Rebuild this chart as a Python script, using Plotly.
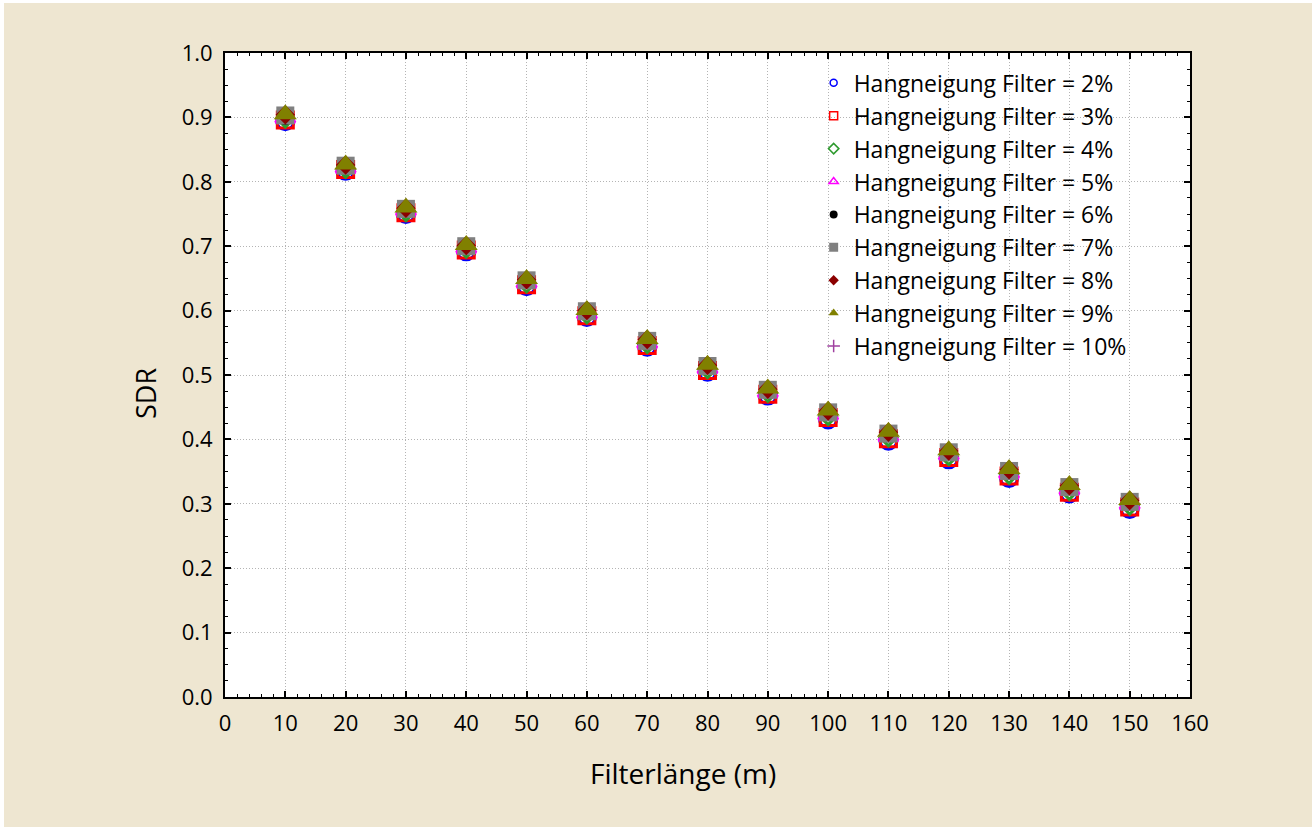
import plotly.graph_objects as go

# Filter length (m)
filter_len = [10, 20, 30, 40, 50, 60, 70, 80, 90, 100, 110, 120, 130, 140, 150]

# SDR per slope of the filter strip
sdr_2 = [0.894, 0.817, 0.750, 0.692, 0.638, 0.590, 0.544, 0.505, 0.468, 0.431, 0.398, 0.369, 0.340, 0.316, 0.292]
sdr_3 = [0.896, 0.819, 0.752, 0.694, 0.640, 0.592, 0.546, 0.507, 0.470, 0.434, 0.401, 0.372, 0.343, 0.318, 0.295]
sdr_4 = [0.898, 0.820, 0.753, 0.696, 0.642, 0.594, 0.548, 0.509, 0.472, 0.436, 0.403, 0.374, 0.345, 0.320, 0.297]
sdr_5 = [0.899, 0.821, 0.755, 0.697, 0.643, 0.595, 0.549, 0.510, 0.473, 0.438, 0.405, 0.376, 0.347, 0.322, 0.299]
sdr_6 = [0.900, 0.823, 0.756, 0.698, 0.645, 0.597, 0.551, 0.512, 0.475, 0.440, 0.407, 0.378, 0.349, 0.324, 0.301]
sdr_7 = [0.903, 0.825, 0.758, 0.700, 0.647, 0.599, 0.553, 0.514, 0.477, 0.442, 0.409, 0.380, 0.351, 0.326, 0.303]
sdr_8 = [0.904, 0.826, 0.759, 0.701, 0.648, 0.600, 0.555, 0.515, 0.478, 0.444, 0.411, 0.382, 0.353, 0.328, 0.305]
sdr_9 = [0.905, 0.827, 0.760, 0.702, 0.649, 0.601, 0.556, 0.516, 0.479, 0.445, 0.412, 0.383, 0.354, 0.329, 0.306]
sdr_10 = [0.903, 0.825, 0.758, 0.700, 0.647, 0.599, 0.553, 0.514, 0.477, 0.442, 0.409, 0.380, 0.351, 0.326, 0.303]

series_names = [f"Hangneigung Filter = {p}%" for p in [2, 3, 4, 5, 6, 7, 8, 9, 10]]
series_values = [sdr_2, sdr_3, sdr_4, sdr_5, sdr_6, sdr_7, sdr_8, sdr_9, sdr_10]

styles = [
    dict(symbol="circle-open", color="#0000FF", lw=3, size=17),
    dict(symbol="square-open", color="#FF0000", lw=3, size=16),
    dict(symbol="diamond-open", color="#2E9B2E", lw=3, size=13),
    dict(symbol="triangle-up-open", color="#FF00FF", lw=3, size=17),
    dict(symbol="circle", color="#000000", lw=0, size=15),
    dict(symbol="square", color="#808080", lw=0, size=18),
    dict(symbol="diamond", color="#8B0000", lw=0, size=15),
    dict(symbol="triangle-up", color="#808000", lw=0, size=20),
    dict(symbol="cross-thin-open", color="#A040A0", lw=1.5, size=6),
]
legend_sizes = [7, 8, 8, 8, 8, 9, 8, 9, 9]

FONT = "Open Sans"
BEIGE = "#EEE6D1"

fig = go.Figure()

# data markers: the small plus (10%) goes underneath, the rest in series order
draw_order = [8, 0, 1, 2, 3, 4, 5, 6, 7]
for i in draw_order:
    st = styles[i]
    fig.add_trace(go.Scatter(
        x=filter_len, y=series_values[i], mode="markers", name=series_names[i], showlegend=False,
        marker=dict(symbol=st["symbol"], size=st["size"], color=st["color"],
                    line=dict(color=st["color"], width=st["lw"])),
    ))

# small legend markers
for name, st, sz in zip(series_names, styles, legend_sizes):
    fig.add_trace(go.Scatter(
        x=[None], y=[None], mode="markers", name=name,
        marker=dict(symbol=st["symbol"], size=sz, color=st["color"],
                    line=dict(color=st["color"], width=min(st["lw"], 1.5))),
    ))

axis_common = dict(
    showline=True, linecolor="black", linewidth=2, mirror="allticks",
    ticks="inside", ticklen=6, tickwidth=1.5, tickcolor="black",
    showgrid=True, gridcolor="#B4B4B4", griddash="1px,2px", gridwidth=1,
    zeroline=False, tickfont=dict(family=FONT, size=22, color="black"),
)

fig.update_xaxes(
    range=[0, 160], dtick=10, tick0=0,
    minor=dict(dtick=2, ticks="inside", ticklen=3, tickcolor="black", tickwidth=1, showgrid=False),
    ticklabelstandoff=6,
    **axis_common,
)
fig.update_yaxes(
    range=[0, 1.0], dtick=0.1, tick0=0, tickformat=".1f",
    minor=dict(dtick=0.025, ticks="inside", ticklen=3, tickcolor="black", tickwidth=1, showgrid=False),
    ticklabelstandoff=6,
    **axis_common,
)

# axis titles
fig.add_annotation(text="Filterlänge (m)", xref="paper", yref="paper",
                   x=(683 - 225) / 965, y=(697 - 773) / 644, xanchor="center", yanchor="middle",
                   showarrow=False, font=dict(family=FONT, size=28, color="black"))
fig.add_annotation(text="SDR", xref="paper", yref="paper", textangle=-90,
                   x=(145 - 225) / 965, y=(697 - 394) / 644, xanchor="center", yanchor="middle",
                   showarrow=False, font=dict(family=FONT, size=27, color="black"))

# thin white strip along the top and left edges of the page
fig.add_shape(type="rect", xref="paper", yref="paper",
              x0=-225 / 965, x1=(1312 - 225) / 965, y0=1 + 50 / 644, y1=1 + 53 / 644,
              fillcolor="white", line_width=0, layer="below")
fig.add_shape(type="rect", xref="paper", yref="paper",
              x0=-225 / 965, x1=-221 / 965, y0=-130 / 644, y1=1 + 53 / 644,
              fillcolor="white", line_width=0, layer="below")

fig.update_layout(
    width=1312, height=827,
    margin=dict(l=225, r=122, t=53, b=130),
    paper_bgcolor=BEIGE, plot_bgcolor="white",
    font=dict(family=FONT, color="black"),
    legend=dict(
        x=0.610, y=0.987, xanchor="left", yanchor="top",
        bgcolor="rgba(255,255,255,0)", borderwidth=0,
        font=dict(family=FONT, size=23, color="black"),
        tracegroupgap=0, itemwidth=30,
    ),
)

fig.write_html("out.html")
